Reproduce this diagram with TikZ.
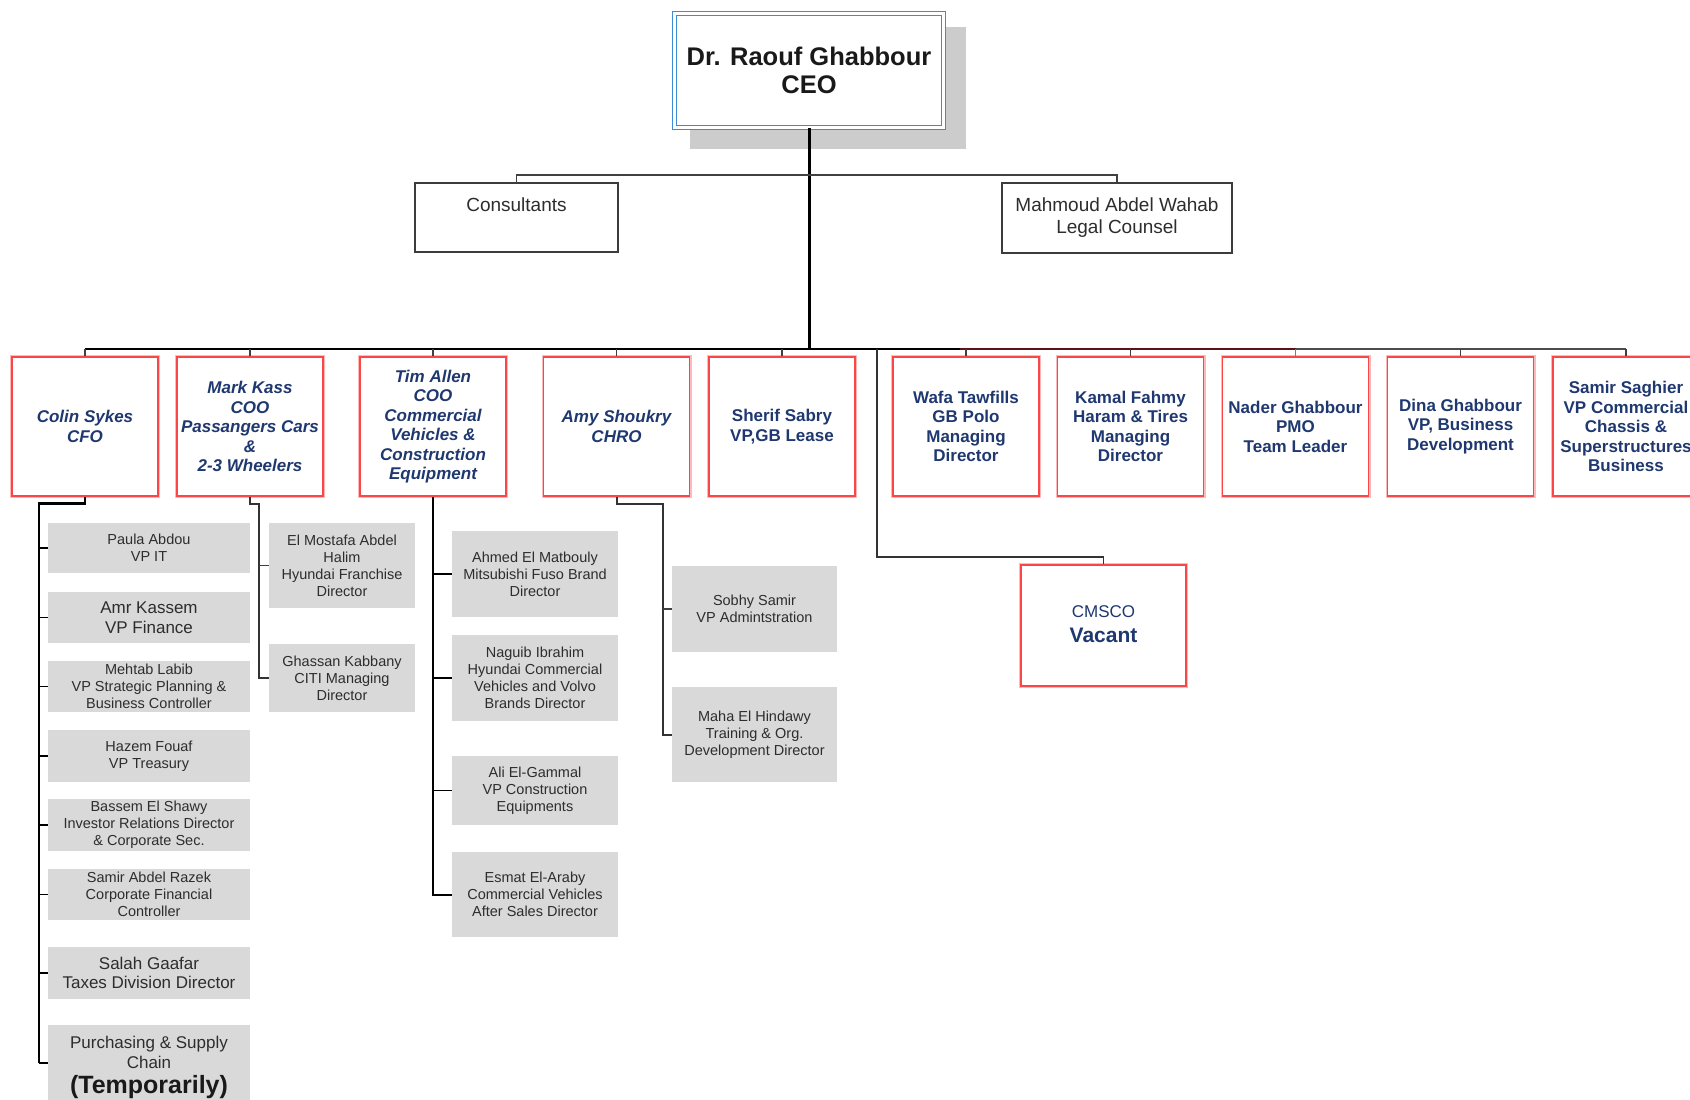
\documentclass[tikz,border=0pt]{standalone}
\usepackage{fontspec}
\setmainfont{Liberation Sans}
\usetikzlibrary{calc}
\definecolor{navy}{RGB}{31,56,112}
\definecolor{boxred}{RGB}{250,70,70}
\definecolor{boxglow}{RGB}{255,185,185}
\definecolor{ceoblue}{RGB}{60,140,215}
\definecolor{gfill}{RGB}{217,217,217}
\definecolor{shadowgray}{RGB}{204,204,204}
\definecolor{gtext}{RGB}{45,45,45}
\definecolor{boxgray}{RGB}{60,60,60}
\definecolor{maroon}{RGB}{90,20,20}
\newcommand\myfs[2]{\fontsize{#1}{#2}\selectfont}
\tikzset{
  ceobox/.style={draw=ceoblue, double=white, double distance=2.2pt, line width=1.3pt, fill=white,
    minimum width=269pt, minimum height=114pt, align=center, inner sep=0pt,
    font=\bfseries\myfs{25.5}{28}, text=black!90},
  plainbox/.style={draw=boxgray, line width=1.8pt, fill=white, align=center, inner sep=0pt,
    font=\myfs{19}{22}, text=gtext},
  plaintext/.style={align=center, inner sep=0pt, font=\myfs{19}{22}, text=gtext},
  lvl/.style={draw=boxred, line width=1.6pt, preaction={draw=boxglow, line width=4pt}, fill=white,
    minimum width=146pt, minimum height=139pt, align=center, inner sep=0pt, text=navy,
    font=\bfseries\myfs{17}{19.5}},
  lvli/.style={lvl, font=\bfseries\itshape\myfs{17}{19.5}},
  subbox/.style={fill=gfill, text=gtext, align=center, inner sep=0pt, font=\myfs{14.5}{17}},
  subbig/.style={subbox, font=\myfs{17}{19.5}},
  trunk/.style={draw=black, line width=2.6pt},
  trunkg/.style={draw=black!80, line width=2pt},
  tick/.style={draw=black, line width=1.5pt},
  tickg/.style={draw=black!75, line width=1.5pt},
  stub/.style={draw=black!75, line width=1.4pt},
}
\begin{document}
\begin{tikzpicture}[x=1pt,y=-1pt]
\useasboundingbox (0,0) rectangle (1690,1100);
\fill[white] (0,0) rectangle (1690,1100);
\clip (0,0) rectangle (1690,1100);

% CEO
\fill[shadowgray] (690,27) rectangle (966,149);
\node[ceobox] (ceo) at (809,70.5) {Dr. Raouf Ghabbour\\CEO};

% Consultants & Legal
\node[plainbox, minimum width=203pt, minimum height=69pt] (cons) at (516.5,217.5) {};
\node[plaintext] (constext) at (516.5,205) {Consultants};
\node[plainbox, minimum width=230pt, minimum height=70pt] (legal) at (1117,218) {Mahmoud Abdel Wahab\\Legal Counsel};

% Level 2
\node[lvli] (colin)  at (85,426.5)   {Colin Sykes\\CFO};
\node[lvli] (mark)   at (250,426.5)  {Mark Kass\\COO\\Passangers Cars\\\&\\2-3 Wheelers};
\node[lvli] (tim)    at (433,426.5)  {Tim Allen\\COO\\Commercial\\Vehicles \&\\Construction\\Equipment};
\node[lvli] (amy)    at (616.5,426.5) {Amy Shoukry\\CHRO};
\node[lvl]  (sherif) at (782,426.5)  {Sherif Sabry\\VP,GB Lease};
\node[lvl]  (wafa)   at (966,426.5)  {Wafa Tawfills\\GB Polo\\Managing\\Director};
\node[lvl]  (kamal)  at (1130.5,426.5) {Kamal Fahmy\\Haram \& Tires\\Managing\\Director};
\node[lvl]  (nader)  at (1295.5,426.5) {Nader Ghabbour\\PMO\\Team Leader};
\node[lvl]  (dina)   at (1460.5,426.5) {Dina Ghabbour\\VP, Business\\Development};
\node[lvl]  (samir)  at (1626,426.5) {Samir Saghier\\VP Commercial\\Chassis \&\\Superstructures\\Business};

% CMSCO
\node[lvl, minimum width=165pt, minimum height=121pt] (cmsco) at (1103.5,625.5) {};
\node[inner sep=0pt, text=navy, font=\myfs{17}{20}] (cmscot) at (1103.5,612) {CMSCO};
\node[inner sep=0pt, text=navy, font=\bfseries\myfs{21}{23}] (vacant) at (1103.5,635) {Vacant};

% CFO subordinates
\node[subbox, minimum width=202pt, minimum height=50pt] (paula)  at (149,548)   {Paula Abdou\\VP IT};
\node[subbig, minimum width=202pt, minimum height=51pt] (amr)    at (149,617.5) {Amr Kassem\\VP Finance};
\node[subbox, minimum width=202pt, minimum height=51pt] (mehtab) at (149,686.5) {Mehtab Labib\\VP Strategic Planning \&\\Business Controller};
\node[subbox, minimum width=202pt, minimum height=52pt] (hazem)  at (149,756)   {Hazem Fouaf\\VP Treasury};
\node[subbox, minimum width=202pt, minimum height=52pt] (bassem) at (149,825)   {Bassem El Shawy\\Investor Relations Director\\\& Corporate Sec.};
\node[subbox, minimum width=202pt, minimum height=51pt] (razek)  at (149,894.5) {Samir Abdel Razek\\Corporate Financial\\Controller};
\node[subbig, minimum width=202pt, minimum height=52pt] (salah)  at (149,973)   {Salah Gaafar\\Taxes Division Director};
\node[subbox, minimum width=202pt, minimum height=76pt] (purch)  at (149,1063)  {};
\node[inner sep=0pt, align=center, text=gtext, font=\myfs{17}{19.5}] (purcht) at (149,1052.5) {Purchasing \& Supply\\Chain};
\node[inner sep=0pt, text=black!90, font=\bfseries\myfs{25}{27}] (purchb) at (149,1087) {(Temporarily)};

% COO PC subordinates
\node[subbox, minimum width=146pt, minimum height=85pt] (mostafa) at (342,565.5) {El Mostafa Abdel\\Halim\\Hyundai Franchise\\Director};
\node[subbox, minimum width=146pt, minimum height=68pt] (ghassan) at (342,678)   {Ghassan Kabbany\\CITI Managing\\Director};

% COO CV subordinates
\node[subbox, minimum width=166pt, minimum height=86pt] (ahmed)  at (535,574)   {Ahmed El Matbouly\\Mitsubishi Fuso Brand\\Director};
\node[subbox, minimum width=166pt, minimum height=86pt] (naguib) at (535,678)   {Naguib Ibrahim\\Hyundai Commercial\\Vehicles and Volvo\\Brands Director};
\node[subbox, minimum width=166pt, minimum height=69pt] (ali)    at (535,790.5) {Ali El-Gammal\\VP Construction\\Equipments};
\node[subbox, minimum width=166pt, minimum height=85pt] (esmat)  at (535,894.5) {Esmat El-Araby\\Commercial Vehicles\\After Sales Director};

% CHRO subordinates
\node[subbox, minimum width=165pt, minimum height=86pt] (sobhy) at (754.5,609)   {Sobhy Samir\\VP Admintstration};
\node[subbox, minimum width=165pt, minimum height=95pt] (maha)  at (754.5,734.5) {Maha El Hindawy\\Training \& Org.\\Development Director};

% ---- connectors ----
\coordinate (bus) at (809,349);
\coordinate (busm) at (960,349);
\draw[line width=3pt] (ceo.south) -- (bus);
\draw[stub] (cons.north) -- ++(0,-7) -| (legal.north);
\draw[line width=2.4pt] (colin.north |- bus) -- (busm);
\draw[line width=2.4pt, maroon] (busm) -- (nader.north |- bus);
\draw[line width=2.4pt, black!70] (nader.north |- bus) -- (samir.north |- bus);
\foreach \n in {colin,mark,tim,amy,sherif,wafa,kamal,dina,samir}
  \draw[stub] (\n.north) -- (\n.north |- bus);
\draw[line width=1.4pt, boxred] (nader.north) -- (nader.north |- bus);

% CMSCO connector
\coordinate (cj) at (877,349);
\coordinate (cb) at (877,557);
\draw[draw=black!80, line width=1.6pt] (cj) -- (cb) -| (cmsco.north);

% CFO trunk
\coordinate (ct) at (39,503.5);
\draw[trunk] (colin.south) |- (ct) -- (ct |- purch.west);
\foreach \b in {paula,amr,mehtab,hazem,bassem,razek,salah,purch}
  \draw[tick] (ct |- \b.west) -- (\b.west);

% COO PC trunk
\coordinate (mt) at (259,504);
\draw[trunkg] (mark.south) |- (mt) -- (mt |- ghassan.west) -- (ghassan.west);
\draw[tickg] (mt |- mostafa.west) -- (mostafa.west);

% COO CV trunk
\draw[trunk, line width=2pt] (tim.south) -- (tim.south |- esmat.west) -- (esmat.west);
\foreach \b in {ahmed,naguib,ali}
  \draw[tick] (tim.south |- \b.west) -- (\b.west);

% CHRO trunk
\coordinate (at) at (663,504);
\draw[trunkg] (amy.south) |- (at) -- (at |- maha.west) -- (maha.west);
\draw[tickg] (at |- sobhy.west) -- (sobhy.west);
\end{tikzpicture}
\end{document}
